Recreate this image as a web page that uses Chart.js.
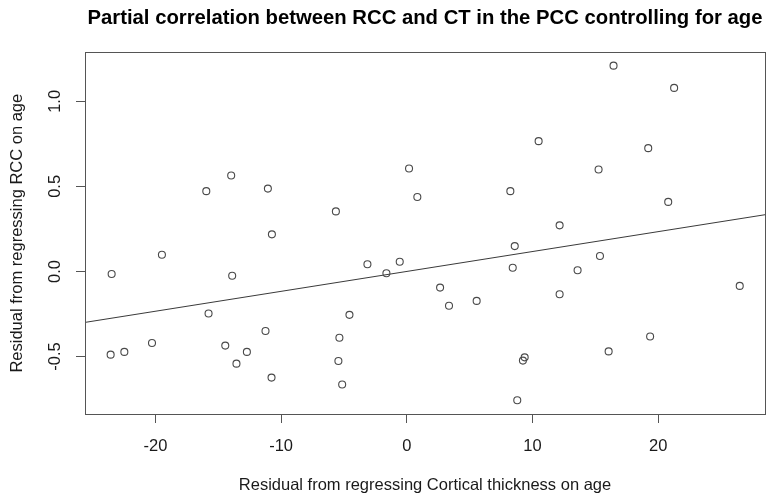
<!DOCTYPE html>
<html>
<head>
<meta charset="utf-8">
<script src="https://cdn.jsdelivr.net/npm/chart.js@4"></script>
<style>
    body { margin: 0; background: #fff; }
    #wrap { width: 773px; height: 499px; }
</style>
</head>
<body>
<div id="wrap"><canvas id="chart" width="773" height="499"></canvas></div>
<script>
// residuals
const ctResid = [
    -23.56, -23.48, -22.47, -20.27, -19.48, -15.95, -15.77, -14.44, -13.97, -13.89,
    -13.55, -12.72, -11.24, -11.05, -10.76, -10.73, -5.64, -5.44, -5.36, -5.14,
    -4.56, -3.13, -1.62, -0.56, 0.18, 0.84, 2.65, 3.36, 5.56, 8.24,
    8.43, 8.59, 8.79, 9.24, 9.38, 10.49, 12.16, 12.16, 13.59, 15.26,
    15.37, 16.06, 16.45, 19.21, 19.36, 20.80, 21.27, 26.49];
const rccResid = [
    -0.489, -0.015, -0.473, -0.421, 0.098, 0.472, -0.247, -0.436, 0.564, -0.025,
    -0.542, -0.473, -0.350, 0.487, -0.624, 0.218, 0.353, -0.526, -0.390, -0.665,
    -0.255, 0.042, -0.011, 0.057, 0.605, 0.438, -0.095, -0.202, -0.173, 0.472,
    0.022, 0.149, -0.757, -0.524, -0.505, 0.766, 0.271, -0.134, 0.007, 0.599,
    0.091, -0.470, 1.210, 0.725, -0.382, 0.409, 1.079, -0.085];
const fitIntercept = 0.0;
const fitSlope = 0.0117;
const xTicks = [-20, -10, 0, 10, 20];
const yTicks = [-0.5, 0.0, 0.5, 1.0];
const xLim = [-25.6, 28.5];
const yLim = [-0.838, 1.288];

document.addEventListener('DOMContentLoaded', () => {
    Chart.defaults.font.family = '"Liberation Sans", Arial, sans-serif';
    Chart.defaults.color = '#1a1a1a';

    const points = ctResid.map((x, i) => ({ x: x, y: rccResid[i] }));
    const fitLine = xLim.map(x => ({ x: x, y: fitIntercept + fitSlope * x }));

    const boxPlugin = {
        id: 'box',
        afterDraw(c) {
            const a = c.chartArea;
            const ctx = c.ctx;
            ctx.save();
            ctx.strokeStyle = '#555';
            ctx.lineWidth = 1;
            ctx.strokeRect(Math.round(a.left) + 0.5, Math.round(a.top) + 0.5,
                Math.round(a.right - a.left), Math.round(a.bottom - a.top));
            ctx.restore();
        }
    };

    const chart = document.querySelector('#chart').getContext('2d');
    new Chart(chart, {
        type: 'scatter',
        data: {
            datasets: [
                {
                    label: 'residuals',
                    data: points,
                    pointStyle: 'circle',
                    pointRadius: 3.5,
                    pointBorderWidth: 1.1,
                    borderColor: '#4a4a4a',
                    backgroundColor: 'rgba(0,0,0,0)',
                    pointHoverRadius: 3.5
                },
                {
                    type: 'line',
                    label: 'fit',
                    data: fitLine,
                    borderColor: '#3a3a3a',
                    borderWidth: 1,
                    pointRadius: 0,
                    fill: false
                }
            ]
        },
        options: {
            responsive: false,
            animation: false,
            layout: { padding: { left: 0, right: 8, top: 0, bottom: 0 } },
            plugins: {
                legend: { display: false },
                tooltip: { enabled: false },
                title: {
                    display: true,
                    fullSize: false,
                    text: 'Partial correlation between RCC and CT in the PCC controlling for age',
                    color: '#000',
                    font: { size: 20.3, weight: 'bold' },
                    padding: { top: 6, bottom: 22 }
                }
            },
            scales: {
                x: {
                    type: 'linear',
                    min: xLim[0],
                    max: xLim[1],
                    afterBuildTicks: s => { s.ticks = xTicks.map(v => ({ value: v })); },
                    afterFit: s => { s.height = 85; },
                    grid: { drawOnChartArea: false, color: '#555', tickLength: 9 },
                    border: { display: true, color: '#555' },
                    ticks: {
                        font: { size: 16.5 },
                        padding: 14,
                        maxRotation: 0,
                        callback: v => String(v)
                    },
                    title: {
                        display: true,
                        text: 'Residual from regressing Cortical thickness on age',
                        font: { size: 16.5 },
                        padding: { top: 0, bottom: 4 }
                    }
                },
                y: {
                    type: 'linear',
                    min: yLim[0],
                    max: yLim[1],
                    afterBuildTicks: s => { s.ticks = yTicks.map(v => ({ value: v })); },
                    afterFit: s => { s.width = 85; },
                    grid: { drawOnChartArea: false, color: '#555', tickLength: 9 },
                    border: { display: true, color: '#555' },
                    ticks: {
                        font: { size: 16.5 },
                        padding: 6,
                        minRotation: 90,
                        maxRotation: 90,
                        crossAlign: 'center',
                        callback: v => v.toFixed(1)
                    },
                    title: {
                        display: true,
                        text: 'Residual from regressing RCC on age',
                        font: { size: 16.5 },
                        padding: { top: 7.5, bottom: 0 }
                    }
                }
            }
        },
        plugins: [boxPlugin]
    });
});
</script>
</body>
</html>
